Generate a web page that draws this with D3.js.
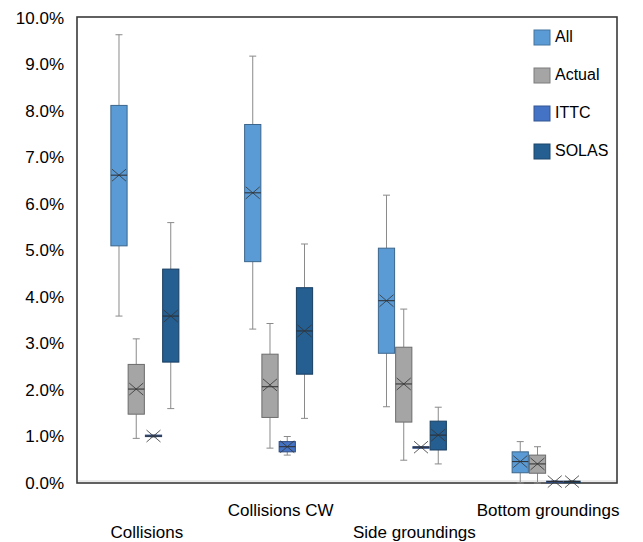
<!DOCTYPE html>
<html>
<head>
<meta charset="utf-8">
<script src="https://cdn.jsdelivr.net/npm/d3@7"></script>
<style>
  body { margin: 0; background: #fff; }
  svg { font-family: "Liberation Sans", Arial, sans-serif; }
</style>
</head>
<body>
<div id="chart"></div>
<script>
(() => {

    // categories and series
    const categories = ["Collisions", "Collisions CW", "Side groundings", "Bottom groundings"];
    const seriesNames = ["All", "Actual", "ITTC", "SOLAS"];
    const seriesColors = ["#5b9bd5", "#a5a5a5", "#4472c4", "#255e91"];
    const yTicks = [0, 1, 2, 3, 4, 5, 6, 7, 8, 9, 10];

    // box stats per category, in %: [min, q1, median, q3, max, mean]
    const allStats = [
        [3.59, 5.10, 6.62, 8.12, 9.64, 6.62],
        [3.31, 4.76, 6.24, 7.71, 9.18, 6.24],
        [1.64, 2.79, 3.92, 5.05, 6.19, 3.92],
        [0.00, 0.22, 0.46, 0.67, 0.89, 0.46]
    ];
    const actualStats = [
        [0.96, 1.48, 2.02, 2.55, 3.10, 2.02],
        [0.75, 1.41, 2.07, 2.77, 3.43, 2.11],
        [0.49, 1.31, 2.13, 2.92, 3.74, 2.13],
        [0.00, 0.21, 0.41, 0.60, 0.78, 0.41]
    ];
    const ittcStats = [
        [0.99, 1.00, 1.01, 1.03, 1.03, 1.01],
        [0.60, 0.67, 0.78, 0.89, 1.00, 0.78],
        [0.76, 0.76, 0.77, 0.78, 0.78, 0.77],
        [0.01, 0.02, 0.03, 0.04, 0.05, 0.03]
    ];
    const solasStats = [
        [1.60, 2.60, 3.59, 4.60, 5.60, 3.59],
        [1.39, 2.34, 3.27, 4.20, 5.14, 3.27],
        [0.41, 0.71, 1.03, 1.33, 1.63, 1.03],
        [0.01, 0.02, 0.03, 0.04, 0.05, 0.03]
    ];
    const statsBySeries = [allStats, actualStats, ittcStats, solasStats];

    var width = 643, height = 542;
    var plot = { left: 77, top: 17, right: 617, bottom: 483 };

    var svg = d3.select("#chart")
        .append("svg")
        .attr("width", width)
        .attr("height", height);

    var x0 = d3.scaleBand()
        .domain(categories)
        .range([plot.left + 1, plot.right - 4]);

    var x1 = d3.scaleBand()
        .domain(seriesNames)
        .range([-34, 34])
        .paddingInner(0.06);

    var y = d3.scaleLinear()
        .domain([0, 10])
        .range([plot.bottom, 18]);

    // y axis labels
    svg.append("g")
        .attr("transform", "translate(" + plot.left + ",0)")
        .call(d3.axisLeft(y).tickValues(yTicks).tickSize(0).tickPadding(13)
            .tickFormat(d => d3.format(".1f")(d) + "%"))
        .call(g => g.select(".domain").remove())
        .selectAll("text")
        .style("font-size", "17px")
        .style("font-family", "Liberation Sans, Arial, sans-serif")
        .attr("fill", "#000");

    // frame
    svg.append("line")
        .attr("x1", plot.left + 1).attr("x2", plot.right - 1)
        .attr("y1", plot.bottom - 2).attr("y2", plot.bottom - 2)
        .attr("stroke", "#d4d4d4").attr("stroke-width", 1);
    svg.append("rect")
        .attr("x", plot.left).attr("y", plot.top)
        .attr("width", plot.right - plot.left)
        .attr("height", plot.bottom - plot.top)
        .attr("fill", "none")
        .attr("stroke", "#3a3a3a")
        .attr("stroke-width", 1.6);

    // boxes
    seriesNames.forEach(function (name, si) {
        var color = seriesColors[si];
        var g = svg.append("g").attr("class", "series");
        var rows = statsBySeries[si].map(function (s, ci) {
            return { cat: categories[ci], min: s[0], q1: s[1], med: s[2], q3: s[3], max: s[4], mean: s[5] };
        });
        var box = g.selectAll("g.box")
            .data(rows)
            .enter()
            .append("g")
            .attr("class", "box")
            .attr("transform", function (d) {
                return "translate(" + (x0(d.cat) + x0.bandwidth() / 2 + x1(name)) + ",0)";
            });
        var bw = x1.bandwidth();

        // whiskers
        box.append("line")
            .attr("x1", bw / 2).attr("x2", bw / 2)
            .attr("y1", d => y(d.max)).attr("y2", d => y(d.q3))
            .attr("stroke", "#8a8a8a").attr("stroke-width", 1);
        box.append("line")
            .attr("x1", bw / 2).attr("x2", bw / 2)
            .attr("y1", d => y(d.q1)).attr("y2", d => y(d.min))
            .attr("stroke", "#8a8a8a").attr("stroke-width", 1);
        box.append("line")
            .attr("x1", bw / 2 - 3.5).attr("x2", bw / 2 + 3.5)
            .attr("y1", d => y(d.max)).attr("y2", d => y(d.max))
            .attr("stroke", "#8a8a8a").attr("stroke-width", 1);
        box.append("line")
            .attr("x1", bw / 2 - 3.5).attr("x2", bw / 2 + 3.5)
            .attr("y1", d => y(d.min)).attr("y2", d => y(d.min))
            .attr("stroke", "#8a8a8a").attr("stroke-width", 1);

        box.append("rect")
            .attr("x", 0)
            .attr("y", d => y(d.q3))
            .attr("width", bw)
            .attr("height", d => Math.max(1.5, y(d.q1) - y(d.q3)))
            .style("fill", color)
            .style("stroke", d3.color(color).darker(1.2))
            .attr("stroke-width", 1);

        // median
        box.append("line")
            .attr("x1", 0).attr("x2", bw)
            .attr("y1", d => y(d.med)).attr("y2", d => y(d.med))
            .attr("stroke", "#2b2b2b").attr("stroke-width", 1);

        // mean marker
        box.append("path")
            .attr("d", function (d) {
                var cx = bw / 2, cy = y(d.mean);
                return "M" + (cx - 7) + "," + (cy - 6) + "L" + (cx + 7) + "," + (cy + 6) +
                    "M" + (cx - 7) + "," + (cy + 6) + "L" + (cx + 7) + "," + (cy - 6);
            })
            .attr("stroke", "#333").attr("stroke-width", 0.8)
            .attr("fill", "none");
    });

    // category labels (staggered)
    svg.selectAll("text.cat")
        .data(categories)
        .enter()
        .append("text")
        .attr("class", "cat")
        .attr("x", d => x0(d) + x0.bandwidth() / 2 + 2)
        .attr("y", (d, i) => i % 2 == 0 ? 538 : 516)
        .attr("text-anchor", "middle")
        .style("font-size", "17px")
        .text(d => d);

    // legend
    var legend = svg.append("g").attr("transform", "translate(534,30)");
    seriesNames.forEach(function (name, i) {
        var row = legend.append("g").attr("transform", "translate(0," + (i * 38) + ")");
        row.append("rect")
            .attr("width", 16).attr("height", 15)
            .style("fill", seriesColors[i])
            .style("stroke", d3.color(seriesColors[i]).darker(0.8))
            .attr("stroke-width", 1);
        row.append("text")
            .attr("x", 21).attr("y", 8)
            .attr("dominant-baseline", "middle")
            .style("font-size", "16px")
            .text(name);
    });

})();
</script>
</body>
</html>
